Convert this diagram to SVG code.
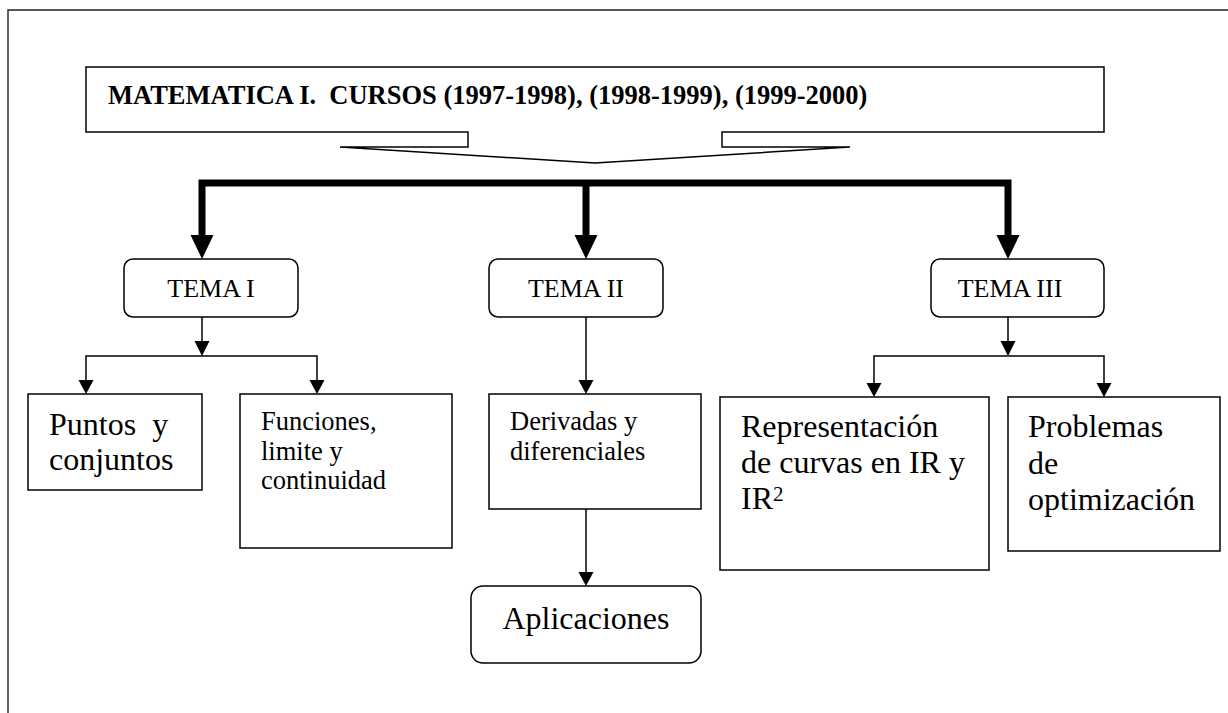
<svg xmlns="http://www.w3.org/2000/svg" width="1228" height="713" viewBox="0 0 1228 713">
<style>
  .frame { fill: none; stroke: #222; stroke-width: 1.4; }
  .box { fill: #fff; stroke: #000; stroke-width: 1.5; }
  .thick { fill: none; stroke: #000; stroke-width: 7; stroke-linejoin: miter; }
  .thin { fill: none; stroke: #000; stroke-width: 1.5; }
  .head { fill: #000; stroke: none; }
  text { font-family: "Liberation Serif", "Times New Roman", serif; fill: #000; white-space: pre; }
  .title { font-size: 26.5px; font-weight: bold; }
  .tema { font-size: 26px; }
  .small { font-size: 26.5px; }
  .big { font-size: 32px; }
</style>
<rect width="1228" height="713" fill="#fff"/>
<path class="frame" d="M8,713 V10 H1228"/>

<g id="title">
  <path class="box" d="M86,67 H1104 V132 H722 V147 H850 L595,163 L340,147 H468 V132 H86 Z"/>
  <text class="title" x="108" y="104">MATEMATICA I.  CURSOS (1997-1998), (1998-1999), (1999-2000)</text>
</g>

<g id="connectors">
  <path class="thick" d="M202,236 V183 H1008 V236"/>
  <path class="thick" d="M586,183 V236"/>
  <polygon class="head" points="190.5,235 213.5,235 202,259"/>
  <polygon class="head" points="574.5,235 597.5,235 586,259"/>
  <polygon class="head" points="996.5,235 1019.5,235 1008,259"/>

  <path class="thin" d="M202,317 V342"/>
  <polygon class="head" points="194.5,341 209.5,341 202,356"/>
  <path class="thin" d="M86,381 V356 H317 V381"/>
  <polygon class="head" points="78.5,380 93.5,380 86,394"/>
  <polygon class="head" points="309.5,380 324.5,380 317,394"/>

  <path class="thin" d="M586,317 V381"/>
  <polygon class="head" points="578.5,380 593.5,380 586,394"/>
  <path class="thin" d="M586,509 V573"/>
  <polygon class="head" points="578.5,572 593.5,572 586,586"/>

  <path class="thin" d="M1008,317 V342"/>
  <polygon class="head" points="1000.5,341 1015.5,341 1008,356"/>
  <path class="thin" d="M874,384 V356 H1104 V384"/>
  <polygon class="head" points="866.5,383 881.5,383 874,397"/>
  <polygon class="head" points="1096.5,383 1111.5,383 1104,397"/>
</g>

<g id="tema1">
  <rect class="box" x="124" y="259" width="174" height="58" rx="9"/>
  <text class="tema" x="211" y="297" text-anchor="middle">TEMA I</text>
</g>
<g id="tema2">
  <rect class="box" x="489" y="259" width="174" height="58" rx="9"/>
  <text class="tema" x="576" y="297" text-anchor="middle">TEMA II</text>
</g>
<g id="tema3">
  <rect class="box" x="931" y="259" width="173" height="58" rx="9"/>
  <text class="tema" x="1010" y="297" text-anchor="middle">TEMA III</text>
</g>

<g id="puntos">
  <rect class="box" x="28" y="394" width="174" height="96"/>
  <text class="big" x="49" y="435">Puntos  y</text>
  <text class="big" x="49" y="470">conjuntos</text>
</g>
<g id="funciones">
  <rect class="box" x="240" y="394" width="212" height="154"/>
  <text class="small" x="261" y="430">Funciones,</text>
  <text class="small" x="261" y="460">limite y</text>
  <text class="small" x="261" y="489">continuidad</text>
</g>
<g id="derivadas">
  <rect class="box" x="489" y="394" width="212" height="115"/>
  <text class="small" x="510" y="430">Derivadas y</text>
  <text class="small" x="510" y="460">diferenciales</text>
</g>
<g id="aplicaciones">
  <rect class="box" x="471" y="586" width="230" height="77" rx="12"/>
  <text class="big" x="586" y="629" text-anchor="middle">Aplicaciones</text>
</g>
<g id="representacion">
  <rect class="box" x="720" y="397" width="269" height="173"/>
  <text class="big" x="741" y="437">Representación</text>
  <text class="big" x="741" y="473">de curvas en IR y</text>
  <text class="big" x="741" y="509">IR<tspan font-size="21" dy="-8">2</tspan></text>
</g>
<g id="problemas">
  <rect class="box" x="1008" y="397" width="212" height="154"/>
  <text class="big" x="1028" y="437">Problemas</text>
  <text class="big" x="1028" y="474">de</text>
  <text class="big" x="1028" y="510">optimización</text>
</g>
</svg>
